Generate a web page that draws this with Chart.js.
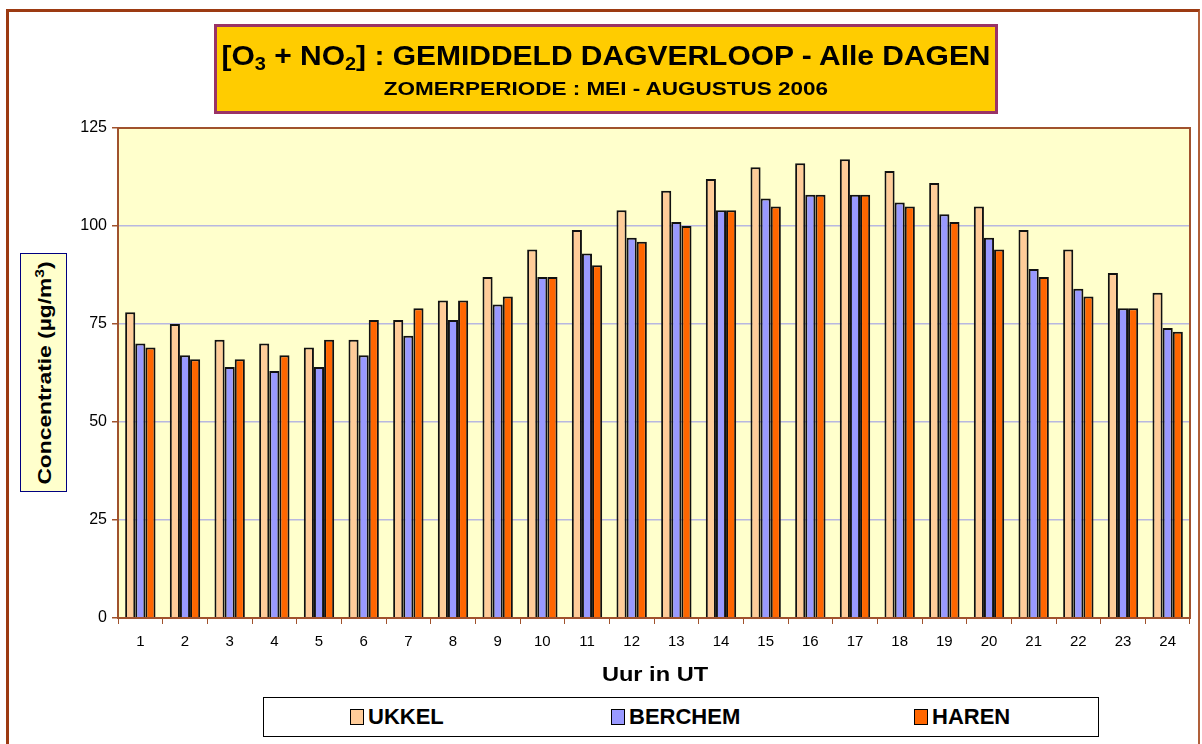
<!DOCTYPE html>
<html>
<head>
<meta charset="utf-8">
<script src="https://cdn.jsdelivr.net/npm/chart.js@4.4.1/dist/chart.umd.min.js"></script>
<style>
  body { margin: 0; background: #fff; font-family: "Liberation Sans", Arial, sans-serif; }
  #wrap { position: relative; width: 1202px; height: 744px; overflow: hidden; }
  #frame { position: absolute; left: 6px; top: 9px; width: 1189px; height: 760px;
           border-top: 3px solid #9c3a12; border-left: 3px solid #9c3a12; border-right: 2px solid #b0603a; }
  canvas { position: absolute; left: 0; top: 0; }
  #title { position: absolute; left: 214px; top: 24px; width: 778px; height: 84px;
           background: #ffcc00; border: 3px solid #993366; text-align: center; font-weight: bold; color: #000; }
  #title .t1 { font-size: 27px; margin-top: 14px; line-height: 30px; transform: scaleX(1.11); }
  #title .t1 sub { font-size: 18px; vertical-align: -5px; line-height: 0; }
  #title .t2 { font-size: 18px; margin-top: 8px; transform: scaleX(1.25); }
  #ytitle { position: absolute; left: 20px; top: 253px; width: 45px; height: 237px;
            background: #ffffcc; border: 1.5px solid #000080; }
  #ytitle span { position: absolute; left: 50%; top: 50%; white-space: nowrap; font-weight: bold; font-size: 19px;
                 transform: translate(-50%, -50%) rotate(-90deg) scaleX(1.2); }
  #ytitle sup { font-size: 13px; }
  #xtitle { position: absolute; left: 555px; width: 200px; top: 663px; text-align: center; font-weight: bold; font-size: 20px;
            transform: scaleX(1.18); }
  #legend { position: absolute; left: 263px; top: 697px; width: 834px; height: 38px;
            border: 1.5px solid #000; background: #fff; }
  #legend .item { position: absolute; top: 8px; font-weight: bold; font-size: 22px; line-height: 22px; }
  #legend .sw { display: inline-block; width: 12px; height: 14px; border: 1.5px solid #000; margin-right: 4px; vertical-align: -1px; }
</style>
</head>
<body>
<div id="wrap">
  <div id="frame"></div>
  <canvas id="chart" width="1202" height="744"></canvas>
  <div id="title">
    <div class="t1">[O<sub>3</sub> + NO<sub>2</sub>] : GEMIDDELD DAGVERLOOP - Alle DAGEN</div>
    <div class="t2">ZOMERPERIODE : MEI - AUGUSTUS 2006</div>
  </div>
  <div id="ytitle"><span>Concentratie (µg/m<sup>3</sup>)</span></div>
  <div id="xtitle">Uur in UT</div>
  <div id="legend"></div>
</div>
<script>
// Data
const hours = ['1','2','3','4','5','6','7','8','9','10','11','12','13','14','15','16','17','18','19','20','21','22','23','24'];
const ukkel   = [78, 75, 71, 70, 69, 71, 76, 81, 87, 94, 99, 104, 109, 112, 115, 116, 117, 114, 111, 105, 99, 94, 88, 83];
const berchem = [70, 67, 64, 63, 64, 67, 72, 76, 80, 87, 93, 97, 101, 104, 107, 108, 108, 106, 103, 97, 89, 84, 79, 74];
const haren   = [69, 66, 66, 67, 71, 76, 79, 81, 82, 87, 90, 96, 100, 104, 105, 108, 108, 105, 101, 94, 87, 82, 79, 73];
const yTicks  = [0, 25, 50, 75, 100, 125];

const brown = '#a0522d';

// plot background + border around the plot area
const plotBox = {
    id: 'plotBox',
    beforeDraw(chart) {
        const { ctx, chartArea: a } = chart;
        ctx.save();
        ctx.fillStyle = '#ffffcc';
        ctx.fillRect(a.left, a.top, a.right - a.left, a.bottom - a.top);
        ctx.restore();
    },
    afterDraw(chart) {
        const { ctx, chartArea: a } = chart;
        ctx.save();
        ctx.strokeStyle = brown;
        ctx.lineWidth = 2;
        ctx.strokeRect(a.left, a.top, a.right - a.left, a.bottom - a.top);
        ctx.restore();
    }
};

const chart = new Chart(document.getElementById('chart'), {
    type: 'bar',
    data: {
        labels: hours,
        datasets: [
            { label: 'UKKEL', data: ukkel, backgroundColor: '#ffcc99' },
            { label: 'BERCHEM', data: berchem, backgroundColor: '#9999ff' },
            { label: 'HAREN', data: haren, backgroundColor: '#ff6600' }
        ].map(d => Object.assign(d, { borderColor: '#111', borderWidth: 2, borderSkipped: 'bottom' }))
    },
    options: {
        responsive: false,
        animation: false,
        devicePixelRatio: 1,
        layout: { padding: { top: 128, right: 12, left: 0, bottom: 0 } },
        datasets: { bar: { categoryPercentage: 0.68, barPercentage: 1.0 } },
        plugins: { legend: { display: false }, tooltip: { enabled: false }, title: { display: false } },
        scales: {
            x: {
                afterFit(scale) { scale.height = 126; },
                grid: { display: true, drawOnChartArea: false, drawTicks: true, tickLength: 6, color: brown, offset: true },
                border: { color: brown, width: 2 },
                ticks: { color: '#000', font: { family: 'Liberation Sans', size: 15 }, padding: 9, maxRotation: 0, autoSkip: false }
            },
            y: {
                min: 0, max: 125,
                afterFit(scale) { scale.width = 118; },
                afterBuildTicks(scale) { scale.ticks = yTicks.map(v => ({ value: v })); },
                grid: { color: '#b8b8e0', lineWidth: 1.5, tickLength: 6, tickColor: brown },
                border: { color: brown, width: 2 },
                ticks: { color: '#000', font: { family: 'Liberation Sans', size: 16 }, padding: 5 }
            }
        }
    },
    plugins: [plotBox]
});

// HTML legend built from the datasets
const legendPos = [86, 347, 650];
const legend = document.getElementById('legend');
chart.data.datasets.forEach((ds, i) => {
    const item = document.createElement('div');
    item.className = 'item';
    item.style.left = legendPos[i] + 'px';
    item.innerHTML = '<span class="sw" style="background:' + ds.backgroundColor + '"></span>' + ds.label;
    legend.appendChild(item);
});
</script>
</body>
</html>
